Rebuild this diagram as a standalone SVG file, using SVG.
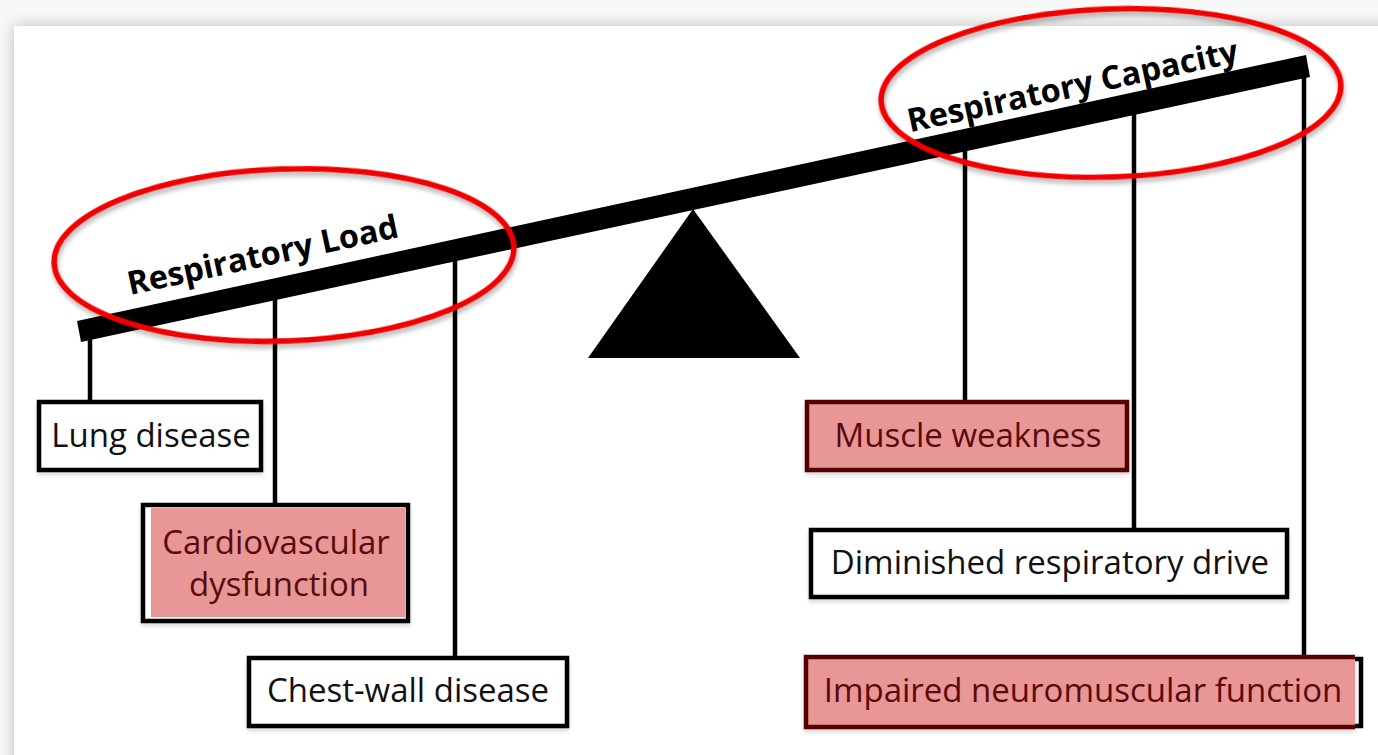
<svg xmlns="http://www.w3.org/2000/svg" width="1378" height="755" viewBox="0 0 1378 755">
<defs>
<filter id="pageShadow" x="-5%" y="-5%" width="110%" height="110%">
<feGaussianBlur in="SourceAlpha" stdDeviation="8"/>
<feOffset dx="0" dy="0"/>
<feComponentTransfer><feFuncA type="linear" slope="0.25"/></feComponentTransfer>
<feMerge><feMergeNode/><feMergeNode in="SourceGraphic"/></feMerge>
</filter>
<filter id="ds" x="-10%" y="-10%" width="120%" height="130%">
<feGaussianBlur in="SourceAlpha" stdDeviation="2.5"/>
<feOffset dx="1" dy="4"/>
<feComponentTransfer><feFuncA type="linear" slope="0.3"/></feComponentTransfer>
<feMerge><feMergeNode/><feMergeNode in="SourceGraphic"/></feMerge>
</filter>
<filter id="bs" x="-5%" y="-10%" width="110%" height="130%">
<feGaussianBlur in="SourceAlpha" stdDeviation="2"/>
<feOffset dx="0" dy="3"/>
<feComponentTransfer><feFuncA type="linear" slope="0.15"/></feComponentTransfer>
<feMerge><feMergeNode/><feMergeNode in="SourceGraphic"/></feMerge>
</filter>
</defs>
<style>
.box{fill:#ffffff;stroke:#000;stroke-width:4.5}
.pink{fill:#e89696}
.pinkb{fill:#e89696;stroke:#560000;stroke-width:4.5}
.t{font-family:"Open Sans","Noto Sans",sans-serif;font-size:33px;text-anchor:middle;fill:#111}
.tr{font-family:"Open Sans","Noto Sans",sans-serif;font-size:33px;text-anchor:middle;fill:#5a0a0a}
.lbl{font-family:"Open Sans","Noto Sans",sans-serif;font-size:32.5px;font-weight:700;text-anchor:middle;fill:#000}
.hang{stroke:#000;stroke-width:4.5;fill:none}
.ell{fill:none;stroke:#f00000;stroke-width:5.5}
</style>
<rect x="0" y="0" width="1378" height="755" fill="#f8f8f8"/>
<rect x="14" y="26" width="1400" height="760" fill="#ffffff" filter="url(#pageShadow)"/>

<g id="connectors">
<line class="hang" x1="90" y1="328" x2="90" y2="400"/>
<line class="hang" x1="275" y1="289" x2="275" y2="503"/>
<line class="hang" x1="455" y1="250" x2="455" y2="656"/>
<line class="hang" x1="965" y1="140" x2="965" y2="400"/>
<line class="hang" x1="1134" y1="104" x2="1134" y2="528"/>
<line class="hang" x1="1304" y1="68" x2="1304" y2="657"/>
</g>

<g id="fulcrum">
<polygon points="693,209 588,358 800,358" fill="#000"/>
</g>

<g id="beam">
<polygon points="77,321 1306,55 1310,77 81,342" fill="#000"/>
</g>

<g id="respiratory-load">
<text class="lbl" transform="translate(265,266) rotate(-12.1)">Respiratory Load</text>
<ellipse class="ell" cx="284" cy="255" rx="230" ry="86" transform="rotate(-2 284 255)" filter="url(#ds)"/>
</g>

<g id="respiratory-capacity">
<text class="lbl" transform="translate(1075,97) rotate(-12.1)">Respiratory Capacity</text>
<ellipse class="ell" cx="1111" cy="93" rx="230" ry="84" transform="rotate(-2 1111 93)" filter="url(#ds)"/>
</g>

<g id="lung-disease">
<rect class="box" x="39" y="402" width="222" height="68" filter="url(#bs)"/>
<text class="t" x="151" y="447">Lung disease</text>
</g>

<g id="cardiovascular-dysfunction">
<rect class="box" x="143" y="505" width="265" height="116" filter="url(#bs)"/>
<rect class="pink" x="151" y="508" width="254" height="109"/>
<text class="tr" x="276" y="554">Cardiovascular</text>
<text class="tr" x="279" y="596">dysfunction</text>
</g>

<g id="chest-wall-disease">
<rect class="box" x="249" y="658" width="318" height="68" filter="url(#bs)"/>
<text class="t" x="408" y="702">Chest-wall disease</text>
</g>

<g id="muscle-weakness">
<rect class="pinkb" x="807" y="402" width="320" height="68" filter="url(#bs)"/>
<text class="tr" x="968" y="447">Muscle weakness</text>
</g>

<g id="diminished-respiratory-drive">
<rect class="box" x="811" y="530" width="476" height="67" filter="url(#bs)"/>
<text class="t" x="1050" y="574">Diminished respiratory drive</text>
</g>

<g id="impaired-neuromuscular-function">
<rect class="box" x="807" y="659" width="554" height="67"/>
<path d="M1355,657 L806,657 L806,727 L1355,727" fill="#e89696" stroke="#560000" stroke-width="4.5" filter="url(#bs)"/>
<text class="tr" x="1083" y="702">Impaired neuromuscular function</text>
</g>
</svg>
